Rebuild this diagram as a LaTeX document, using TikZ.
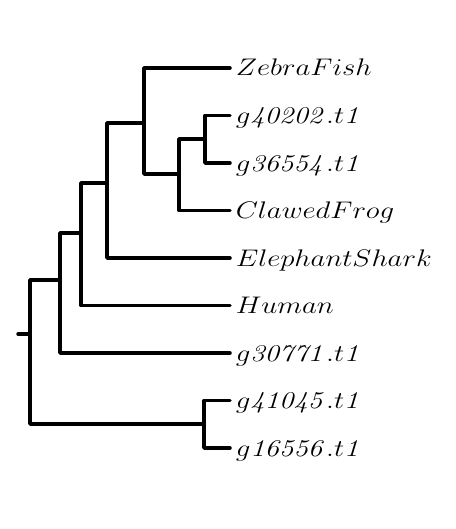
\documentclass[tikz,border=0pt]{standalone}
\usepackage{amsmath,amssymb}
\usetikzlibrary{positioning,calc}

\begin{document}
\begin{tikzpicture}[
    x=0.5pt, y=-0.5pt,
    leaf/.style={anchor=west,inner xsep=2.2pt,inner ysep=0pt,text height=8pt,text depth=0pt,xscale=1.2,transform shape,font=\fontsize{11.5}{13}\selectfont},
    branch/.style={line width=1.75pt,line cap=round,line join=round}
]
    \useasboundingbox (0,0) rectangle (455,529);

    % leaves
    \node[leaf] (zebra)  at (230,68)    {$ZebraFish$};
    \node[leaf] (gA)     at (230,115.5) {$g\mathit{40202}.t\mathit{1}$};
    \node[leaf] (gB)     at (230,163)   {$g\mathit{36554}.t\mathit{1}$};
    \node[leaf] (frog)   at (230,210.5) {$ClawedFrog$};
    \node[leaf] (shark)  at (230,258)   {$ElephantShark$};
    \node[leaf] (human)  at (230,305.5) {$Human$};
    \node[leaf] (gC)     at (230,353)   {$g\mathit{30771}.t\mathit{1}$};
    \node[leaf] (gD)     at (230,400.5) {$g\mathit{41045}.t\mathit{1}$};
    \node[leaf] (gE)     at (230,448)   {$g\mathit{16556}.t\mathit{1}$};

    % inner nodes
    \coordinate (nAB)   at (205,139);
    \coordinate (nFrog) at (179,174);
    \coordinate (nZeb)  at (144,123);
    \coordinate (nShk)  at (107,183);
    \coordinate (nHum)  at (81,233);
    \coordinate (nC)    at (60,280);
    \coordinate (nDE)   at (204,424);
    \coordinate (root)  at (30,334);
    \coordinate (stub)  at (18,334);

    \draw[branch] (nAB) |- (gA.west);
    \draw[branch] (nAB) |- (gB.west);
    \draw[branch] (nFrog) |- (nAB);
    \draw[branch] (nFrog) |- (frog.west);
    \draw[branch] (nZeb) |- (zebra.west);
    \draw[branch] (nZeb) |- (nFrog);
    \draw[branch] (nShk) |- (nZeb);
    \draw[branch] (nShk) |- (shark.west);
    \draw[branch] (nHum) |- (nShk);
    \draw[branch] (nHum) |- (human.west);
    \draw[branch] (nC) |- (nHum);
    \draw[branch] (nC) |- (gC.west);
    \draw[branch] (nDE) |- (gD.west);
    \draw[branch] (nDE) |- (gE.west);
    \draw[branch] (root) |- (nC);
    \draw[branch] (root) |- (nDE);
    \draw[branch] (stub) -- (root);
\end{tikzpicture}
\end{document}
